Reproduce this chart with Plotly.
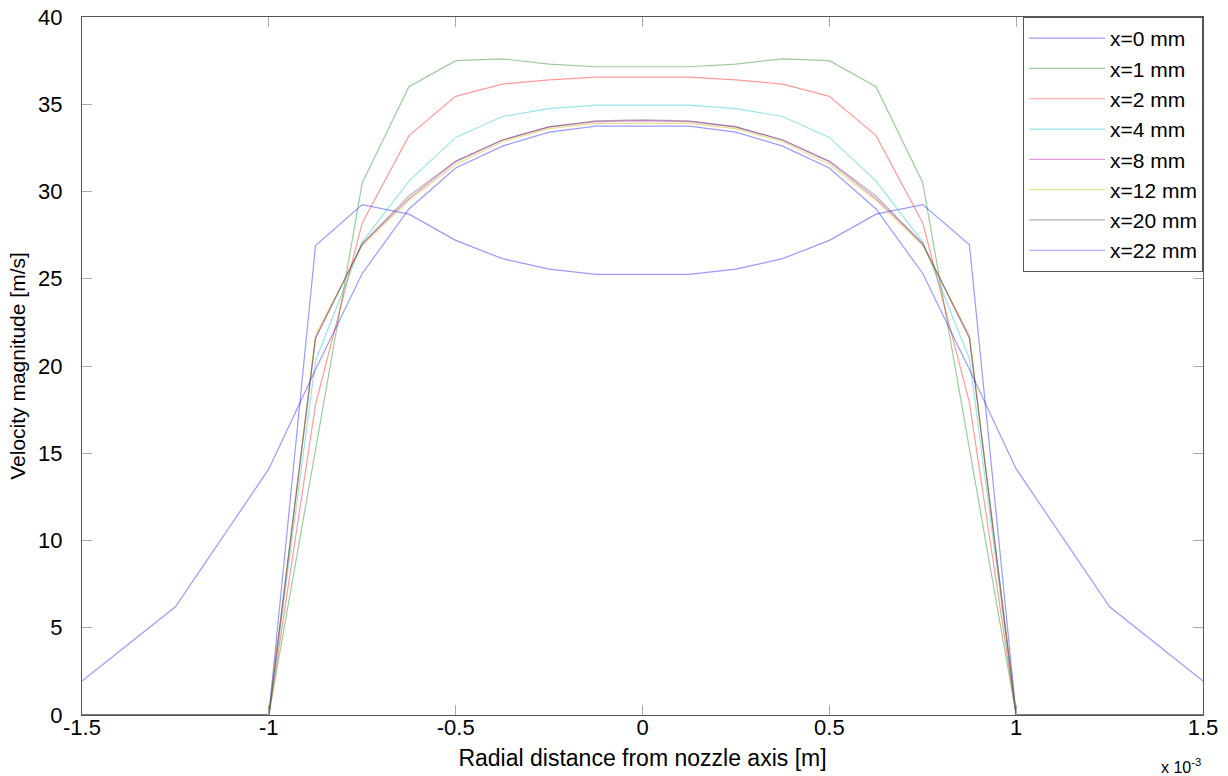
import plotly.graph_objects as go

# Radial positions (units of 1e-3 m)
r_jet = [-1.5, -1.0, -0.875, -0.75, -0.625, -0.5, -0.375, -0.25, -0.125, 0.0,
         0.125, 0.25, 0.375, 0.5, 0.625, 0.75, 0.875, 1.0, 1.5]
r_far = [-1.5, -1.25, -1.0, -0.875, -0.75, -0.625, -0.5, -0.375, -0.25, -0.125, 0.0,
         0.125, 0.25, 0.375, 0.5, 0.625, 0.75, 0.875, 1.0, 1.25, 1.5]

v_x0 = [0, 0, 26.9, 29.25, 28.7, 27.2, 26.15, 25.55, 25.25, 25.25,
        25.25, 25.55, 26.15, 27.2, 28.7, 29.25, 26.95, 0, 0]
v_x1 = [0, 0, 15.2, 30.5, 36.0, 37.5, 37.6, 37.3, 37.15, 37.15,
        37.15, 37.3, 37.6, 37.5, 36.0, 30.5, 15.2, 0, 0]
v_x2 = [0, 0, 17.8, 28.2, 33.2, 35.45, 36.15, 36.4, 36.55, 36.55,
        36.55, 36.4, 36.15, 35.45, 33.2, 28.2, 17.9, 0, 0]
v_x4 = [0, 0, 20.3, 27.1, 30.6, 33.1, 34.3, 34.75, 34.95, 34.95,
        34.95, 34.75, 34.3, 33.1, 30.6, 27.1, 20.4, 0, 0]
v_x8 = [0, 0, 21.6, 27.0, 29.6, 31.7, 32.95, 33.7, 34.0, 34.05,
        34.0, 33.7, 32.95, 31.7, 29.6, 27.0, 21.6, 0, 0]
v_x12 = [0, 0, 21.8, 26.9, 29.5, 31.55, 32.85, 33.6, 33.9, 33.9,
         33.9, 33.6, 32.85, 31.55, 29.5, 26.9, 21.8, 0, 0]
v_x20 = [0, 0, 21.6, 27.0, 29.75, 31.75, 32.95, 33.7, 34.05, 34.1,
         34.05, 33.7, 32.95, 31.75, 29.75, 27.0, 21.6, 0, 0]
v_x22 = [1.95, 6.2, 14.1, 19.8, 25.3, 29.0, 31.35, 32.6, 33.4, 33.75, 33.75,
         33.75, 33.4, 32.6, 31.35, 29.0, 25.3, 19.8, 14.1, 6.2, 1.95]

series_names = ["x=0 mm", "x=1 mm", "x=2 mm", "x=4 mm", "x=8 mm",
                "x=12 mm", "x=20 mm", "x=22 mm"]
series_values = [v_x0, v_x1, v_x2, v_x4, v_x8, v_x12, v_x20, v_x22]
series_r = [r_jet] * 7 + [r_far]
series_colors = ["rgba(0,0,255,0.4)", "rgba(0,128,0,0.4)", "rgba(255,0,0,0.4)",
                 "rgba(0,191,191,0.4)", "rgba(191,0,191,0.4)", "rgba(191,191,0,0.45)",
                 "rgba(0,0,0,0.3)", "rgba(0,0,255,0.4)"]

x_tickvals = [-1.5, -1, -0.5, 0, 0.5, 1, 1.5]
x_ticktext = ["-1.5", "-1", "-0.5", "0", "0.5", "1", "1.5"]
y_tickvals = [0, 5, 10, 15, 20, 25, 30, 35, 40]

font_family = "Arial, Liberation Sans, Helvetica, sans-serif"

fig = go.Figure()
for name, r, v, c in zip(series_names, series_r, series_values, series_colors):
    fig.add_trace(go.Scatter(x=r, y=v, mode="lines", name=name,
                             line=dict(color=c, width=1.2)))

axis_common = dict(
    showgrid=False, zeroline=False, showline=True, mirror="ticks",
    linecolor="#555555", linewidth=1, ticks="inside", ticklen=10,
    tickcolor="#aaaaaa", automargin=False,
    tickfont=dict(family=font_family, size=22, color="black"),
)
fig.update_xaxes(range=[-1.5, 1.5], tickvals=x_tickvals, ticktext=x_ticktext,
                 ticklabelstandoff=-7,
                 title=dict(text="Radial distance from nozzle axis [m]",
                            font=dict(family=font_family, size=23, color="black"),
                            standoff=10),
                 **axis_common)
fig.update_yaxes(range=[0, 40], tickvals=y_tickvals, ticklabelstandoff=14,
                 title=dict(text="Velocity magnitude [m/s]",
                            font=dict(family=font_family, size=21, color="black"),
                            standoff=6),
                 **axis_common)

fig.add_annotation(text="x 10<sup>-3</sup>", xref="paper", yref="paper",
                   x=1.0, y=-0.073, xanchor="right", yanchor="middle", showarrow=False,
                   font=dict(family=font_family, size=16, color="black"))

fig.update_layout(
    width=1228, height=776,
    margin=dict(l=82, r=25, t=17, b=61, autoexpand=False),
    paper_bgcolor="white", plot_bgcolor="white",
    showlegend=True,
    legend=dict(x=1, y=1, xanchor="right", yanchor="top",
                bgcolor="white", bordercolor="#555555", borderwidth=1,
                font=dict(family=font_family, size=21, color="black"),
                itemwidth=76, tracegroupgap=0),
)

fig.write_html("out.html", config={"displayModeBar": False},
               post_script="document.body.style.margin='0';document.body.style.padding='0';")
